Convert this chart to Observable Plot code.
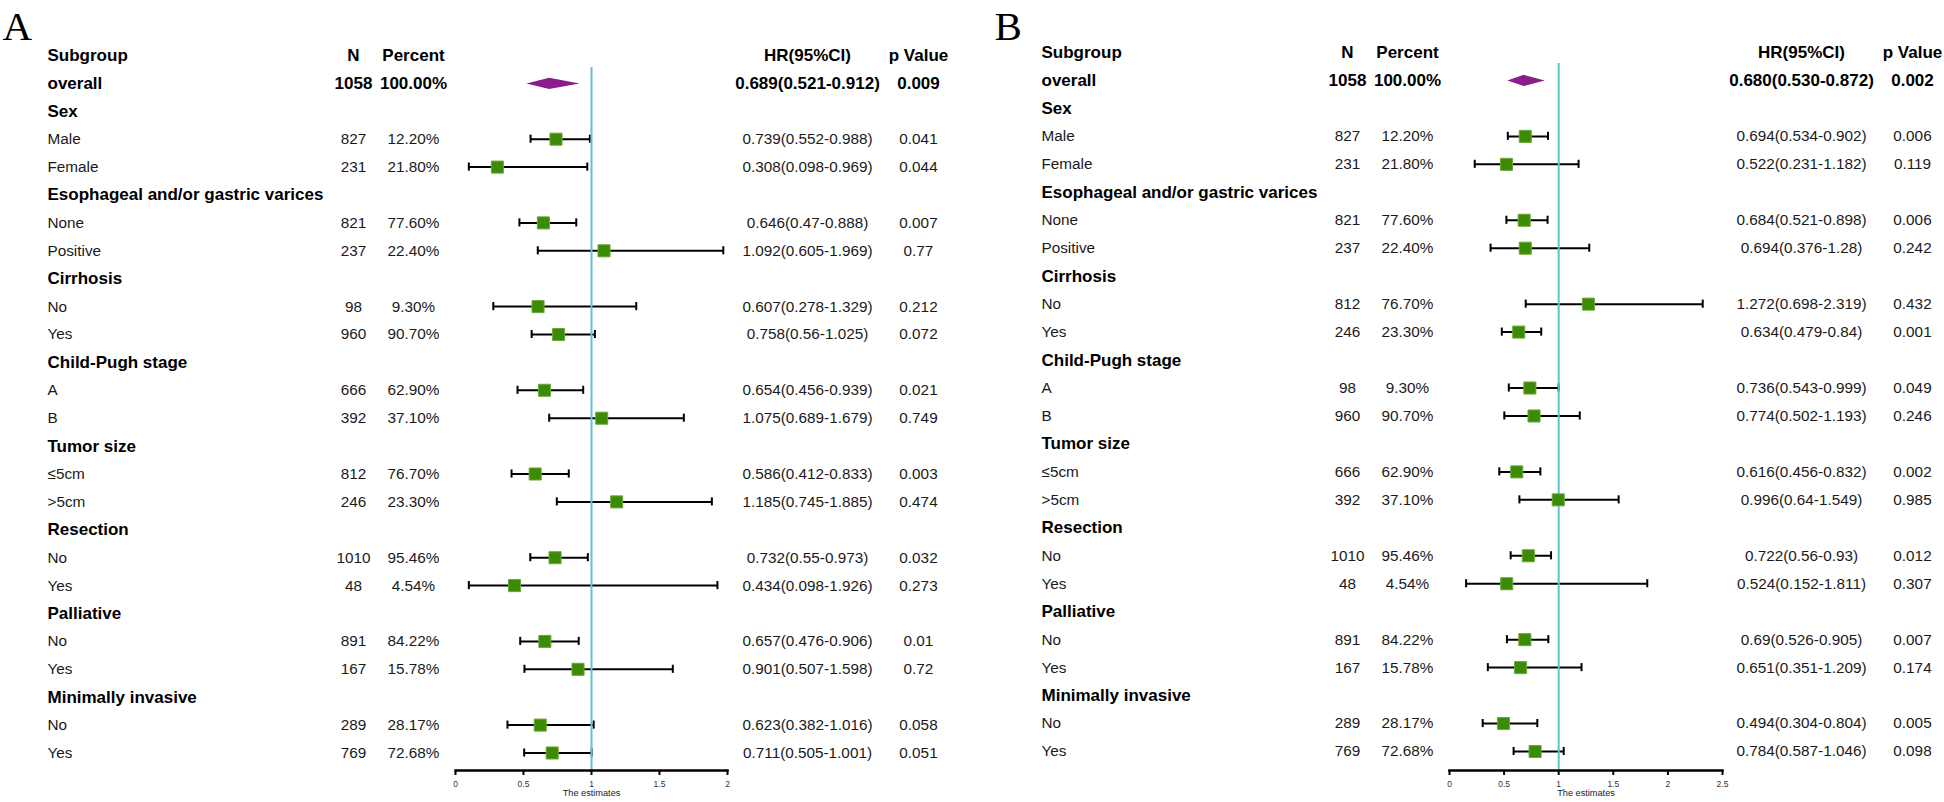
<!DOCTYPE html>
<html>
<head>
<meta charset="utf-8">
<script src="https://cdn.jsdelivr.net/npm/d3@7"></script>
<script src="https://cdn.jsdelivr.net/npm/@observablehq/plot@0.6"></script>
<style>
  html, body { margin: 0; padding: 0; background: #fff; }
  #root { position: relative; width: 1944px; height: 802px; background: #fff; overflow: hidden; }
  #root > svg { position: absolute; top: 0; }
</style>
</head>
<body>
<div id="root"></div>
<script>
// ---------- data ----------
const headerLabels = ["Subgroup", "N", "Percent", "HR(95%CI)", "p Value"];
const subgroups = ["overall", "Sex", "Male", "Female", "Esophageal and/or gastric varices", "None", "Positive",
  "Cirrhosis", "No", "Yes", "Child-Pugh stage", "A", "B", "Tumor size", "≤5cm", ">5cm",
  "Resection", "No", "Yes", "Palliative", "No", "Yes", "Minimally invasive", "No", "Yes"];

// Panel A
const nA   = [1058, null, 827, 231, null, 821, 237, null, 98, 960, null, 666, 392, null, 812, 246, null, 1010, 48, null, 891, 167, null, 289, 769];
const pctA = ["100.00%", null, "12.20%", "21.80%", null, "77.60%", "22.40%", null, "9.30%", "90.70%", null, "62.90%", "37.10%", null, "76.70%", "23.30%", null, "95.46%", "4.54%", null, "84.22%", "15.78%", null, "28.17%", "72.68%"];
const hrA  = ["0.689", null, "0.739", "0.308", null, "0.646", "1.092", null, "0.607", "0.758", null, "0.654", "1.075", null, "0.586", "1.185", null, "0.732", "0.434", null, "0.657", "0.901", null, "0.623", "0.711"];
const loA  = ["0.521", null, "0.552", "0.098", null, "0.47", "0.605", null, "0.278", "0.56", null, "0.456", "0.689", null, "0.412", "0.745", null, "0.55", "0.098", null, "0.476", "0.507", null, "0.382", "0.505"];
const hiA  = ["0.912", null, "0.988", "0.969", null, "0.888", "1.969", null, "1.329", "1.025", null, "0.939", "1.679", null, "0.833", "1.885", null, "0.973", "1.926", null, "0.906", "1.598", null, "1.016", "1.001"];
const pA   = ["0.009", null, "0.041", "0.044", null, "0.007", "0.77", null, "0.212", "0.072", null, "0.021", "0.749", null, "0.003", "0.474", null, "0.032", "0.273", null, "0.01", "0.72", null, "0.058", "0.051"];
const ticksA = [0, 0.5, 1, 1.5, 2];

// Panel B
const nB   = [1058, null, 827, 231, null, 821, 237, null, 812, 246, null, 98, 960, null, 666, 392, null, 1010, 48, null, 891, 167, null, 289, 769];
const pctB = ["100.00%", null, "12.20%", "21.80%", null, "77.60%", "22.40%", null, "76.70%", "23.30%", null, "9.30%", "90.70%", null, "62.90%", "37.10%", null, "95.46%", "4.54%", null, "84.22%", "15.78%", null, "28.17%", "72.68%"];
const hrB  = ["0.680", null, "0.694", "0.522", null, "0.684", "0.694", null, "1.272", "0.634", null, "0.736", "0.774", null, "0.616", "0.996", null, "0.722", "0.524", null, "0.69", "0.651", null, "0.494", "0.784"];
const loB  = ["0.530", null, "0.534", "0.231", null, "0.521", "0.376", null, "0.698", "0.479", null, "0.543", "0.502", null, "0.456", "0.64", null, "0.56", "0.152", null, "0.526", "0.351", null, "0.304", "0.587"];
const hiB  = ["0.872", null, "0.902", "1.182", null, "0.898", "1.28", null, "2.319", "0.84", null, "0.999", "1.193", null, "0.832", "1.549", null, "0.93", "1.811", null, "0.905", "1.209", null, "0.804", "1.046"];
const pB   = ["0.002", null, "0.006", "0.119", null, "0.006", "0.242", null, "0.432", "0.001", null, "0.049", "0.246", null, "0.002", "0.985", null, "0.012", "0.307", null, "0.007", "0.174", null, "0.005", "0.098"];
const ticksB = [0, 0.5, 1, 1.5, 2, 2.5];

// ---------- drawing ----------
const FONT = "'Liberation Sans', Arial, Helvetica, sans-serif";
const BOLD_SIZE = 17, REG_SIZE = 15.3;

function buildRows(n, pct, hr, lo, hi, p) {
  return subgroups.map((label, i) => ({
    row: i + 1,
    label,
    n: n[i] == null ? null : String(n[i]),
    pct: pct[i],
    hr: hr[i] == null ? null : +hr[i],
    lo: lo[i] == null ? null : +lo[i],
    hi: hi[i] == null ? null : +hi[i],
    hrText: hr[i] == null ? null : `${hr[i]}(${lo[i]}-${hi[i]})`,
    p: p[i],
    bold: i === 0 || n[i] == null
  }));
}

function panel({letter, rows, ticks, width, marginRight, yRange, lineTop, letterDx}) {
  const cols = [
    {key: "label",  dx: -408, anchor: "start"},
    {key: "n",      dx: -102, anchor: "middle"},
    {key: "pct",    dx: -42,  anchor: "middle"},
    {key: "hrText", dx: 352,  anchor: "middle"},
    {key: "p",      dx: 463,  anchor: "middle"}
  ];
  const textMarks = [];
  cols.forEach((c, ci) => {
    textMarks.push(Plot.text([{row: 0, t: headerLabels[ci]}], {
      y: "row", text: "t", frameAnchor: "left", dx: c.dx, textAnchor: c.anchor,
      fontWeight: "bold", fontSize: BOLD_SIZE, fill: "#000"
    }));
    textMarks.push(Plot.text(rows.filter(d => d.bold && d[c.key] != null), {
      y: "row", text: c.key, frameAnchor: "left", dx: c.dx, textAnchor: c.anchor,
      fontWeight: "bold", fontSize: BOLD_SIZE, fill: "#000"
    }));
    textMarks.push(Plot.text(rows.filter(d => !d.bold && d[c.key] != null), {
      y: "row", text: c.key, frameAnchor: "left", dx: c.dx, textAnchor: c.anchor,
      fontSize: REG_SIZE, fill: "#1a1a1a"
    }));
  });

  const overall = rows[0];
  const items = rows.filter(d => d.hr != null && d.row > 1);
  const diamond = [
    {x: overall.lo, y: overall.row},
    {x: overall.hr, y: overall.row - 0.2},
    {x: overall.hi, y: overall.row},
    {x: overall.hr, y: overall.row + 0.2}
  ];
  const capH = 0.145;

  return Plot.plot({
    width, height: 802,
    marginLeft: 455, marginRight, marginTop: lineTop, marginBottom: 32,
    x: {domain: [ticks[0], ticks[ticks.length - 1]]},
    y: {domain: [0, 25], range: yRange, axis: null},
    style: {fontFamily: FONT, background: "#fff", overflow: "visible"},
    marks: [
      Plot.text([letter], {frameAnchor: "top-left", dx: letterDx, dy: 39 - lineTop, textAnchor: "start",
        lineAnchor: "bottom", fontFamily: "'Liberation Serif', 'Times New Roman', serif", fontSize: 41, fill: "#000"}),
      ...textMarks,
      // confidence intervals
      Plot.ruleY(items, {y: "row", x1: "lo", x2: "hi", stroke: "#000", strokeWidth: 2}),
      Plot.ruleX(items, {x: "lo", y1: d => d.row - capH, y2: d => d.row + capH, stroke: "#000", strokeWidth: 2}),
      Plot.ruleX(items, {x: "hi", y1: d => d.row - capH, y2: d => d.row + capH, stroke: "#000", strokeWidth: 2}),
      // reference line
      Plot.ruleX([1], {stroke: "#62c2d0", strokeWidth: 2}),
      // estimates
      Plot.dot(items, {x: "hr", y: "row", symbol: "square", r: 6.8, fill: "#3d8a04", stroke: "#6aa83c", strokeWidth: 1}),
      Plot.line(diamond, {x: "x", y: "y", fill: "#8a1c8c", stroke: "none", curve: "linear-closed"}),
      // axis
      Plot.frame({anchor: "bottom", stroke: "#000", strokeWidth: 2.5}),
      Plot.axisX({ticks, anchor: "bottom", tickSize: 5, tickPadding: 5, fontSize: 8.5,
        tickFormat: d => String(d), stroke: "#000", strokeWidth: 2, fill: "#333", label: null}),
      Plot.text(["The estimates"], {frameAnchor: "bottom", dy: 25, fontSize: 9.2, fill: "#222"})
    ]
  });
}

const root = document.getElementById("root");
const svgA = panel({
  letter: "A", rows: buildRows(nA, pctA, hrA, loA, hiA, pA), ticks: ticksA,
  width: 994, marginRight: 994 - 727, yRange: [55, 752.5], lineTop: 67, letterDx: 2 - 455
});
svgA.style.left = "0px";
root.appendChild(svgA);

const svgB = panel({
  letter: "B", rows: buildRows(nB, pctB, hrB, loB, hiB, pB), ticks: ticksB,
  width: 950, marginRight: 950 - 728, yRange: [52, 751], lineTop: 63, letterDx: 0 - 455
});
svgB.style.left = "994px";
root.appendChild(svgB);
</script>
</body>
</html>
